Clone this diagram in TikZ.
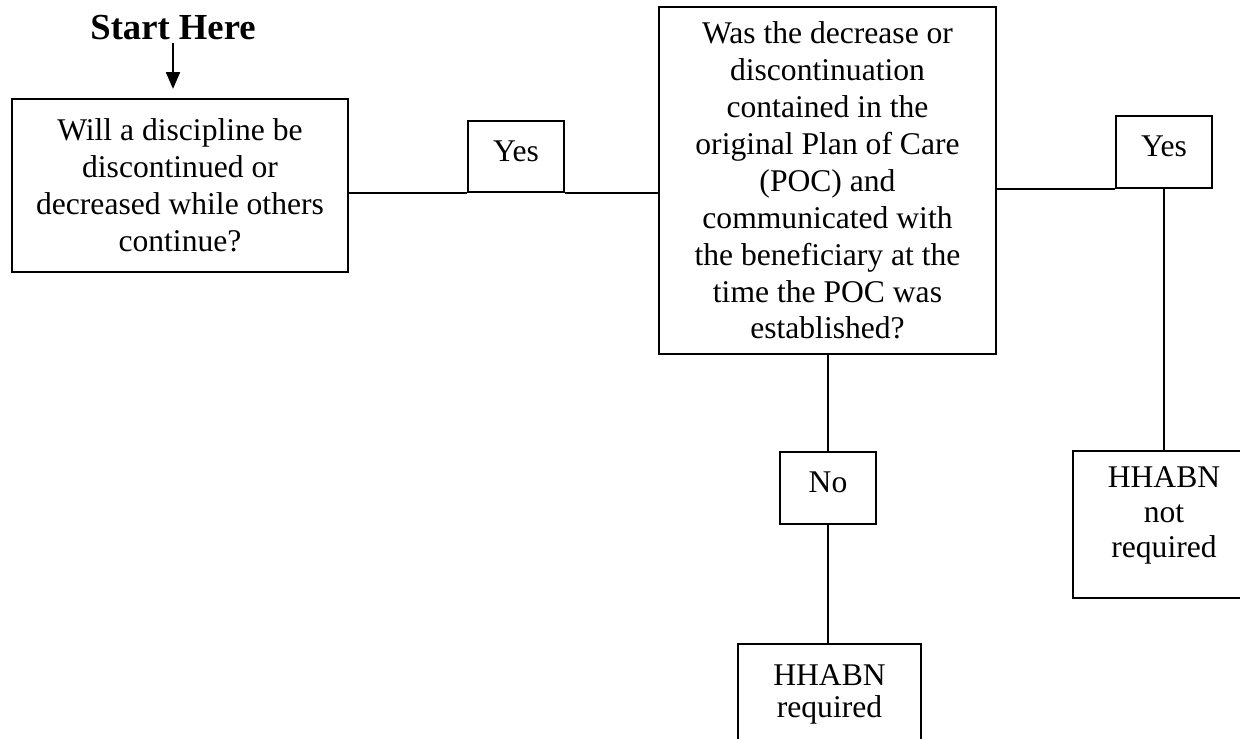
\documentclass[tikz,border=0pt]{standalone}
\usepackage{fontspec}
\setmainfont{Liberation Serif}
\usetikzlibrary{arrows.meta}
\begin{document}
\begin{tikzpicture}[x=0.75pt,y=-0.75pt,
  box/.style={draw, line width=1.2pt, rectangle, inner sep=0pt, align=center,
    font=\fontsize{23.7pt}{27.7pt}\selectfont},
  small/.style={box, minimum width=72pt, text height=15.75pt, text depth=9pt},
  conn/.style={line width=1.2pt}]
\useasboundingbox (0,0) rectangle (1240,739);
\clip (0,0) rectangle (1240,739);

\node[inner sep=0pt, anchor=base, font=\bfseries\fontsize{27.5pt}{30pt}\selectfont] (start) at (173,39) {Start Here};

\node[box, minimum width=252pt, minimum height=129.75pt] (q1) at (180,185.5)
  {Will a discipline be\\discontinued or\\decreased while others\\continue?};

\node[box, minimum width=252.75pt, minimum height=260.25pt] (q2) at (827.5,180.5)
  {Was the decrease or\\discontinuation\\contained in the\\original Plan of Care\\(POC) and\\communicated with\\the beneficiary at the\\time the POC was\\established?};

\node[small, minimum height=53.25pt] (yes1) at (516,156.5) {Yes};
\node[small, minimum height=54pt] (yes2) at (1164,152) {Yes};
\node[small, minimum height=54pt] (no) at (828,488) {No};

\node[box, minimum width=137.25pt, minimum height=75.75pt,
  font=\fontsize{23.7pt}{24pt}\selectfont] (req) at (829.5,694.5) {HHABN\\required};

\node[box, minimum width=136.5pt, minimum height=110.25pt, text depth=18.75pt,
  font=\fontsize{23.7pt}{26pt}\selectfont] (nreq) at (1164,524.5) {HHABN\\not\\required};

\draw[conn, -{Triangle[length=12.5pt,width=10.5pt]}, shorten <=2.5pt, shorten >=7pt] (start.south) -- (start.south |- q1.north);
\draw[conn] (q1.east |- yes1.south) -- (yes1.south west);
\draw[conn] (yes1.south east) -- (q2.west |- yes1.south);
\draw[conn] (q2.east |- yes2.south) -- (yes2.south west);
\draw[conn] (yes2.south) -- (nreq.north);
\draw[conn] (q2.south -| no.north) -- (no.north);
\draw[conn] (no.south) -- (req.north -| no.south);
\end{tikzpicture}
\end{document}
